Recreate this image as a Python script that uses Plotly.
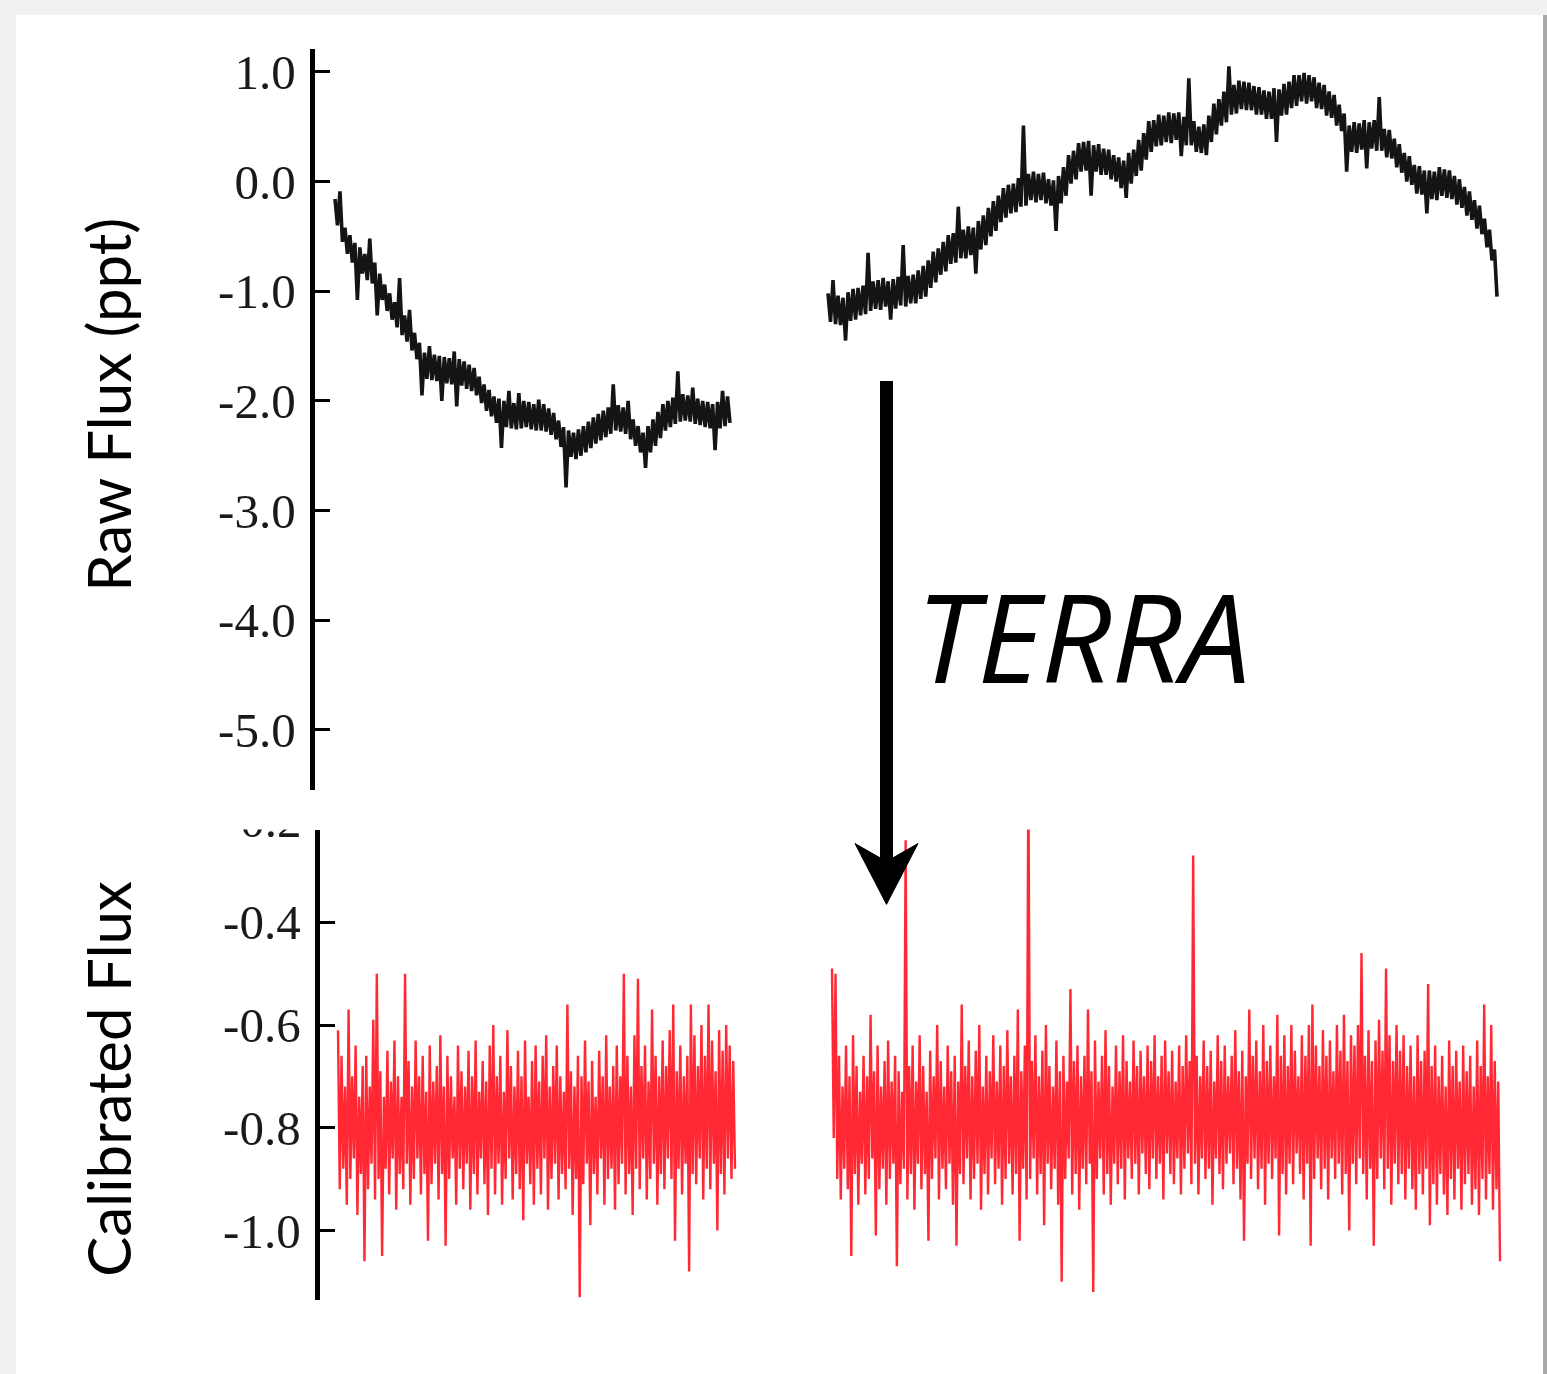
import numpy as np
import plotly.graph_objects as go

W, H = 1547, 1374

# ---------------- data ----------------
# The light curves are dense; each list holds the upper and lower edge of the
# trace read in consecutive narrow time bins (upper = *_hi, lower = *_lo).

# Raw flux (ppt), quarter 1
raw_t1_start, raw_t1_end = 0.0, 39.5
raw_hi_1 = [
    -0.16, -0.09, -0.42, -0.49, -0.56, -0.60, -0.66, -0.52, -0.74, -0.84,
    -0.94, -1.02, -1.10, -0.88, -1.22, -1.17, -1.38, -1.47, -1.56, -1.50,
    -1.58, -1.59, -1.60, -1.61, -1.55, -1.62, -1.64, -1.67, -1.70, -1.78,
    -1.85, -1.90, -1.96, -1.98, -2.00, -1.91, -2.02, -1.93, -2.00, -2.01,
    -2.03, -1.99, -2.03, -2.07, -2.11, -2.18, -2.24, -2.27, -2.29, -2.26,
    -2.23, -2.19, -2.15, -2.12, -2.09, -2.06, -1.85, -2.04, -2.06, -2.00,
    -2.17, -2.23, -2.29, -2.23, -2.17, -2.10, -2.03, -2.00, -1.97, -1.73,
    -1.94, -1.95, -1.88, -1.98, -2.00, -2.01, -2.03, -2.01, -1.91, -1.96,
]
raw_lo_1 = [
    -0.40, -0.55, -0.66, -0.74, -1.08, -0.84, -0.90, -0.93, -1.22, -1.08,
    -1.18, -1.26, -1.33, -1.40, -1.46, -1.54, -1.62, -1.95, -1.80, -1.81,
    -1.82, -2.00, -1.84, -1.85, -2.05, -1.86, -1.89, -1.91, -1.95, -2.02,
    -2.09, -2.14, -2.20, -2.43, -2.24, -2.25, -2.26, -2.25, -2.24, -2.26,
    -2.27, -2.27, -2.28, -2.31, -2.35, -2.42, -2.79, -2.51, -2.53, -2.50,
    -2.47, -2.43, -2.39, -2.36, -2.33, -2.30, -2.27, -2.28, -2.30, -2.35,
    -2.41, -2.47, -2.61, -2.47, -2.41, -2.34, -2.27, -2.24, -2.21, -2.19,
    -2.18, -2.19, -2.21, -2.22, -2.24, -2.25, -2.45, -2.25, -2.23, -2.20,
]

# Raw flux (ppt), quarter 2
raw_t2_start, raw_t2_end = 49.3, 116.2
raw_hi_2 = [
    -1.02, -0.90, -1.04, -1.06, -1.01, -0.98, -0.97, -0.95, -0.65, -0.91,
    -0.90, -0.88, -0.91, -0.89, -0.87, -0.58, -0.86, -0.85, -0.81, -0.77,
    -0.72, -0.64, -0.61, -0.55, -0.49, -0.47, -0.23, -0.44, -0.41, -0.42,
    -0.36, -0.31, -0.24, -0.18, -0.13, -0.06, -0.03, -0.02, 0.03, 0.51,
    0.07, 0.09, 0.07, 0.08, 0.02, 0.01, 0.05, 0.13, 0.24, 0.28,
    0.35, 0.36, 0.37, 0.33, 0.34, 0.30, 0.29, 0.24, 0.22, 0.19,
    0.26, 0.29, 0.38, 0.44, 0.55, 0.56, 0.61, 0.60, 0.63, 0.62,
    0.63, 0.59, 0.94, 0.55, 0.50, 0.52, 0.60, 0.71, 0.75, 0.82,
    1.05, 0.88, 0.92, 0.91, 0.90, 0.87, 0.86, 0.83, 0.82, 0.85,
    0.84, 0.89, 0.91, 0.97, 0.97, 0.99, 0.97, 0.95, 0.90, 0.88,
    0.82, 0.79, 0.70, 0.62, 0.51, 0.54, 0.53, 0.56, 0.54, 0.56,
    0.77, 0.48, 0.47, 0.39, 0.34, 0.26, 0.23, 0.15, 0.14, 0.10,
    0.10, 0.09, 0.13, 0.11, 0.10, 0.05, 0.02, -0.05, -0.09, -0.17,
    -0.22, -0.34, -0.44, -0.62,
]
raw_lo_2 = [
    -1.28, -1.30, -1.31, -1.45, -1.27, -1.26, -1.22, -1.21, -1.18, -1.16,
    -1.17, -1.14, -1.26, -1.16, -1.13, -1.14, -1.11, -1.11, -1.07, -1.05,
    -0.97, -0.92, -0.85, -0.82, -0.75, -0.74, -0.70, -0.70, -0.67, -0.84,
    -0.62, -0.58, -0.50, -0.45, -0.37, -0.33, -0.29, -0.28, -0.23, -0.22,
    -0.17, -0.19, -0.17, -0.20, -0.22, -0.45, -0.20, -0.13, -0.02, 0.02,
    0.09, 0.10, -0.13, 0.09, 0.06, 0.06, 0.02, 0.00, -0.06, -0.15,
    -0.02, 0.05, 0.10, 0.20, 0.27, 0.32, 0.33, 0.36, 0.35, 0.38,
    0.23, 0.33, 0.33, 0.27, 0.26, 0.24, 0.36, 0.43, 0.51, 0.54,
    0.61, 0.62, 0.66, 0.65, 0.65, 0.61, 0.61, 0.57, 0.57, 0.36,
    0.60, 0.61, 0.67, 0.69, 0.73, 0.71, 0.73, 0.67, 0.66, 0.60,
    0.58, 0.51, 0.46, 0.09, 0.27, 0.26, 0.29, 0.12, 0.30, 0.28,
    0.28, 0.22, 0.21, 0.13, 0.08, 0.00, -0.03, -0.11, -0.12, -0.29,
    -0.16, -0.17, -0.13, -0.15, -0.16, -0.21, -0.24, -0.31, -0.35, -0.43,
    -0.48, -0.60, -0.72, -1.05,
]

# Calibrated flux, quarter 1
cal_t1_start, cal_t1_end = 0.3, 40.0
cal_hi_1 = [
    -0.61, -0.66, -0.72, -0.57, -0.70, -0.64, -0.74, -0.68, -0.66, -0.72,
    -0.59, -0.50, -0.69, -0.74, -0.65, -0.71, -0.63, -0.70, -0.74, -0.50,
    -0.67, -0.72, -0.63, -0.70, -0.66, -0.73, -0.64, -0.71, -0.68, -0.62,
    -0.72, -0.66, -0.70, -0.74, -0.64, -0.69, -0.72, -0.65, -0.70, -0.63,
    -0.73, -0.67, -0.71, -0.64, -0.60, -0.70, -0.66, -0.73, -0.61, -0.68,
    -0.72, -0.65, -0.70, -0.63, -0.74, -0.67, -0.64, -0.71, -0.66, -0.62,
    -0.72, -0.68, -0.64, -0.70, -0.73, -0.56, -0.69, -0.72, -0.66, -0.70,
    -0.63, -0.71, -0.67, -0.74, -0.65, -0.70, -0.62, -0.72, -0.68, -0.64,
    -0.70, -0.50, -0.66, -0.72, -0.62, -0.51, -0.68, -0.64, -0.71, -0.57,
    -0.66, -0.70, -0.63, -0.68, -0.61, -0.56, -0.69, -0.64, -0.70, -0.66,
    -0.56, -0.62, -0.68, -0.60, -0.66, -0.56, -0.63, -0.69, -0.61, -0.65,
    -0.60, -0.64, -0.67,
]
cal_lo_1 = [
    -0.92, -0.88, -0.95, -0.90, -0.86, -0.97, -0.89, -1.06, -0.92, -0.87,
    -0.94, -0.90, -1.05, -0.88, -0.93, -0.86, -0.96, -0.89, -0.92, -0.87,
    -0.95, -0.90, -0.86, -0.93, -0.89, -1.02, -0.91, -0.87, -0.94, -0.89,
    -1.03, -0.90, -0.86, -0.95, -0.88, -0.92, -0.87, -0.96, -0.89, -0.93,
    -0.86, -0.91, -0.97, -0.88, -0.93, -0.87, -0.95, -0.90, -0.86, -0.94,
    -0.89, -0.92, -0.98, -0.87, -0.91, -0.95, -0.88, -0.93, -0.86, -0.96,
    -0.90, -0.87, -0.94, -0.89, -0.92, -0.88, -0.97, -0.90, -1.13, -0.91,
    -0.87, -0.99, -0.89, -0.93, -0.86, -0.95, -0.90, -0.88, -0.96, -0.91,
    -0.87, -0.93, -0.89, -0.97, -0.88, -0.92, -0.86, -0.94, -0.90, -0.87,
    -0.95, -0.89, -0.92, -0.86, -0.90, -1.02, -0.88, -0.93, -0.87, -1.08,
    -0.89, -0.91, -0.86, -0.94, -0.88, -0.92, -0.87, -1.00, -0.89, -0.93,
    -0.86, -0.90, -0.88,
]

# Calibrated flux, quarter 2
cal_t2_start, cal_t2_end = 49.7, 116.5
cal_hi_2 = [
    -0.49, -0.50, -0.66, -0.72, -0.64, -0.70, -0.62, -0.68, -0.73, -0.66,
    -0.70, -0.58, -0.69, -0.64, -0.72, -0.67, -0.63, -0.71, -0.66, -0.69,
    -0.73, -0.24, -0.68, -0.64, -0.71, -0.62, -0.68, -0.73, -0.65, -0.70,
    -0.60, -0.67, -0.72, -0.64, -0.69, -0.66, -0.71, -0.56, -0.68, -0.63,
    -0.70, -0.65, -0.60, -0.72, -0.66, -0.69, -0.62, -0.71, -0.64, -0.68,
    -0.61, -0.70, -0.66, -0.57, -0.69, -0.64, -0.10, -0.67, -0.62, -0.70,
    -0.65, -0.60, -0.68, -0.72, -0.63, -0.69, -0.66, -0.71, -0.53, -0.67,
    -0.64, -0.70, -0.66, -0.57, -0.69, -0.63, -0.71, -0.66, -0.61, -0.68,
    -0.72, -0.64, -0.69, -0.62, -0.67, -0.71, -0.63, -0.68, -0.65, -0.70,
    -0.64, -0.67, -0.62, -0.70, -0.66, -0.63, -0.69, -0.65, -0.71, -0.64,
    -0.68, -0.62, -0.67, -0.27, -0.66, -0.70, -0.63, -0.68, -0.65, -0.71,
    -0.62, -0.67, -0.64, -0.70, -0.66, -0.61, -0.69, -0.65, -0.70, -0.57,
    -0.66, -0.63, -0.69, -0.60, -0.67, -0.64, -0.70, -0.58, -0.66, -0.62,
    -0.68, -0.60, -0.65, -0.70, -0.62, -0.66, -0.60, -0.56, -0.64, -0.68,
    -0.61, -0.66, -0.63, -0.69, -0.60, -0.65, -0.58, -0.67, -0.62, -0.64,
    -0.60, -0.46, -0.66, -0.61, -0.67, -0.63, -0.59, -0.65, -0.49, -0.62,
    -0.67, -0.60, -0.65, -0.62, -0.68, -0.64, -0.70, -0.62, -0.67, -0.65,
    -0.52, -0.68, -0.64, -0.70, -0.66, -0.72, -0.63, -0.68, -0.65, -0.71,
    -0.64, -0.69, -0.66, -0.72, -0.63, -0.68, -0.56, -0.70, -0.60, -0.67,
    -0.71,
]
cal_lo_2 = [
    -0.82, -0.90, -0.94, -0.88, -0.92, -1.05, -0.89, -0.95, -0.87, -0.93,
    -0.90, -0.86, -1.01, -0.92, -0.88, -0.95, -0.90, -0.87, -1.07, -0.91,
    -0.88, -0.94, -0.89, -0.96, -0.87, -0.92, -0.89, -1.02, -0.90, -0.86,
    -0.94, -0.88, -0.92, -0.87, -0.95, -1.03, -0.89, -0.91, -0.86, -0.94,
    -0.90, -0.87, -0.96, -0.89, -0.93, -0.86, -0.91, -0.88, -0.95, -0.90,
    -0.87, -0.93, -0.89, -1.02, -0.88, -0.94, -0.90, -0.86, -0.93, -0.89,
    -0.99, -0.87, -0.92, -0.88, -0.95, -1.10, -0.90, -0.86, -0.93, -0.89,
    -0.96, -0.88, -0.91, -0.87, -1.12, -0.90, -0.86, -0.93, -0.89, -0.95,
    -0.87, -0.91, -0.88, -0.94, -0.86, -0.90, -0.87, -0.93, -0.85, -0.89,
    -0.92, -0.86, -0.90, -0.87, -0.94, -0.85, -0.89, -0.91, -0.86, -0.93,
    -0.88, -0.85, -0.91, -0.87, -0.93, -0.86, -0.90, -0.88, -0.95, -0.86,
    -0.89, -0.92, -0.87, -0.85, -0.91, -0.88, -0.94, -1.02, -0.87, -0.90,
    -0.86, -0.92, -0.88, -0.95, -0.87, -0.90, -0.86, -1.01, -0.89, -0.93,
    -0.87, -0.91, -0.85, -0.89, -0.94, -0.87, -1.03, -0.90, -0.86, -0.92,
    -0.88, -0.94, -0.86, -0.90, -0.87, -0.93, -0.89, -1.00, -0.87, -0.91,
    -0.86, -0.89, -0.94, -0.88, -1.03, -0.90, -0.86, -0.92, -0.88, -0.95,
    -0.87, -0.91, -0.89, -0.94, -0.88, -0.92, -0.96, -0.89, -0.93, -0.88,
    -0.99, -0.91, -0.95, -0.89, -0.93, -0.97, -0.90, -0.94, -0.88, -0.96,
    -0.91, -0.89, -0.95, -0.92, -0.97, -0.90, -0.94, -0.89, -0.96, -0.92,
    -1.06,
]

raw_tickvals = [1, 0, -1, -2, -3, -4, -5]
raw_ticktext = ["1.0", "0.0", "-1.0", "-2.0", "-3.0", "-4.0", "-5.0"]
cal_tickvals = [-0.4, -0.6, -0.8, -1.0]
cal_ticktext = ["-0.4", "-0.6", "-0.8", "-1.0"]


# ---------------- figure ----------------
def px_x(p):
    return p / W


def px_y(p):
    return 1 - p / H


def trace_xy(t_start, t_end, hi, lo):
    """Walk the read edges in time order: upper edge, lower edge, upper, ..."""
    n = len(hi)
    t = np.linspace(t_start, t_end, 2 * n)
    y = np.empty(2 * n)
    y[0::2] = hi
    y[1::2] = lo
    return t, y


black = "#141414"
red = "rgba(255,28,40,0.95)"

fig = go.Figure()
for ts, te, hi, lo in ((raw_t1_start, raw_t1_end, raw_hi_1, raw_lo_1),
                       (raw_t2_start, raw_t2_end, raw_hi_2, raw_lo_2)):
    t, y = trace_xy(ts, te, hi, lo)
    fig.add_trace(go.Scatter(x=t, y=y, mode="lines", xaxis="x", yaxis="y",
                             line=dict(color=black, width=3.6, simplify=False),
                             showlegend=False, hoverinfo="skip"))
for ts, te, hi, lo in ((cal_t1_start, cal_t1_end, cal_hi_1, cal_lo_1),
                       (cal_t2_start, cal_t2_end, cal_hi_2, cal_lo_2)):
    t, y = trace_xy(ts, te, hi, lo)
    fig.add_trace(go.Scatter(x=t, y=y, mode="lines", xaxis="x2", yaxis="y2",
                             line=dict(color=red, width=2.4, simplify=False),
                             showlegend=False, hoverinfo="skip"))

tick_font = dict(family="Liberation Serif, Times New Roman, serif", size=49, color="#1a1a1a")

x_end_px = 1510
fig.update_layout(
    width=W, height=H,
    margin=dict(l=0, r=0, t=0, b=0),
    paper_bgcolor="#f0f0f0",
    plot_bgcolor="rgba(0,0,0,0)",
    xaxis=dict(domain=[px_x(314.5), px_x(x_end_px)],
               range=[(314.5 - 335) / 10, (x_end_px - 335) / 10],
               visible=False, anchor="y"),
    yaxis=dict(domain=[px_y(788), px_y(45)], range=[-5.545, 1.209], anchor="x",
               showgrid=False, zeroline=False, showline=True, linecolor="black",
               linewidth=5, ticks="inside", ticklen=15, tickwidth=3, tickcolor="black",
               tickvals=raw_tickvals, ticktext=raw_ticktext, tickfont=tick_font,
               ticklabelstandoff=4),
    xaxis2=dict(domain=[px_x(319.5), px_x(x_end_px)],
                range=[(319.5 - 335) / 10, (x_end_px - 335) / 10],
                visible=False, anchor="y2"),
    yaxis2=dict(domain=[px_y(1300), px_y(828)], range=[-1.136, -0.2194], anchor="x2",
                showgrid=False, zeroline=False, showline=True, linecolor="black",
                linewidth=5, ticks="inside", ticklen=15, tickwidth=3, tickcolor="black",
                tickvals=cal_tickvals, ticktext=cal_ticktext, tickfont=tick_font,
                ticklabelstandoff=4),
)

# card background
fig.add_shape(type="rect", xref="paper", yref="paper", layer="below",
              x0=px_x(16), x1=px_x(1543), y0=0, y1=px_y(11),
              fillcolor="white", line=dict(width=0))
fig.add_shape(type="rect", xref="paper", yref="paper", layer="below",
              x0=px_x(1543), x1=1, y0=0, y1=px_y(11),
              fillcolor="#a9a9a9", line=dict(width=0))

# arrow
fig.add_shape(type="line", xref="paper", yref="paper",
              x0=px_x(886.5), x1=px_x(886.5), y0=px_y(378), y1=px_y(862),
              line=dict(color="black", width=13))
head = "M {} {} L {} {} L {} {} L {} {} Z".format(
    px_x(855), px_y(842), px_x(886.5), px_y(903), px_x(918), px_y(842),
    px_x(886.5), px_y(860))
fig.add_shape(type="path", xref="paper", yref="paper", path=head,
              fillcolor="black", line=dict(color="black", width=1))

# clipped "-0.2" label at top of lower axis
fig.add_annotation(xref="paper", yref="paper", x=px_x(304), y=px_y(819), xanchor="right",
                   yanchor="middle", text="-0.2", showarrow=False, font=tick_font)
fig.add_annotation(xref="paper", yref="paper", x=px_x(250), y=px_y(804),
                   xanchor="center", yanchor="middle", text=" ", showarrow=False,
                   width=112, height=46, bgcolor="white", borderpad=0)

title_font = dict(family="Lato, Open Sans, sans-serif", size=60, color="black")
fig.add_annotation(xref="paper", yref="paper", x=px_x(108), y=px_y(402),
                   text="Raw Flux (ppt)", textangle=-90, showarrow=False,
                   font=title_font, xanchor="center", yanchor="middle")
fig.add_annotation(xref="paper", yref="paper", x=px_x(108), y=px_y(1078),
                   text="Calibrated Flux", textangle=-90, showarrow=False,
                   font=title_font, xanchor="center", yanchor="middle")

fig.add_annotation(xref="paper", yref="paper", x=px_x(1083), y=px_y(633),
                   text="<i>TERRA</i>", showarrow=False,
                   font=dict(family="Open Sans, sans-serif", size=123, color="black"),
                   xanchor="center", yanchor="middle")

fig.write_html("out.html")
